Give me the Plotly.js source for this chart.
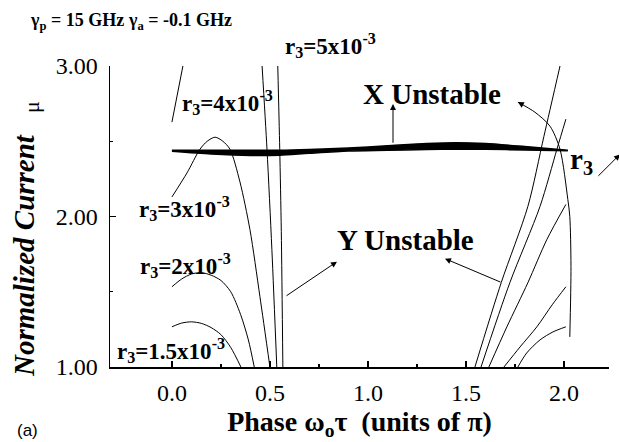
<!DOCTYPE html>
<html>
<head>
<meta charset="utf-8">
<script src="https://cdn.plot.ly/plotly-3.0.1.min.js"></script>
<style>
  html, body { margin: 0; padding: 0; background: #fff; }
  #chart { width: 619px; height: 442px; }
</style>
</head>
<body>
<div id="chart"></div>
<script>
// Stability boundaries: normalized current mu versus phase (units of pi)
// for several values of the feedback ratio r3.

// r3 = 1.5e-3
const r15LeftPhase  = [0, 0.05, 0.1, 0.15, 0.2, 0.25, 0.3, 0.352];
const r15LeftMu     = [1.267, 1.292, 1.300, 1.290, 1.262, 1.215, 1.13, 1.0];
const r15RightPhase = [1.765, 1.81, 1.878, 1.944, 2.01];
const r15RightMu    = [1.0, 1.093, 1.18, 1.233, 1.267];

// r3 = 2e-3
const r2LeftPhase  = [0, 0.05, 0.1, 0.15, 0.2, 0.25, 0.3, 0.35, 0.39, 0.42];
const r2LeftMu     = [1.533, 1.585, 1.618, 1.627, 1.61, 1.575, 1.50, 1.35, 1.18, 1.0];
const r2RightPhase = [1.694, 1.776, 1.862, 1.94, 2.01];
const r2RightMu    = [1.0, 1.133, 1.267, 1.413, 1.533];

// r3 = 3e-3
const r3LeftPhase  = [0, 0.077, 0.143, 0.18, 0.22, 0.26, 0.296, 0.347, 0.398, 0.449, 0.5];
const r3LeftMu     = [2.13, 2.29, 2.447, 2.50, 2.527, 2.50, 2.447, 2.23, 1.913, 1.467, 1.0];
const r3RightPhase = [1.617, 1.709, 1.816, 1.913, 2.01];
const r3RightMu    = [1.0, 1.267, 1.56, 1.847, 2.08];

// r3 = 4e-3
const r4LeftPhase  = [0, 0.056];
const r4LeftMu     = [2.627, 3.0];
const r4MidPhase   = [0.46, 0.485, 0.51, 0.535];
const r4MidMu      = [3.0, 2.447, 1.78, 1.0];
const r4RightPhase = [1.577, 1.724, 1.878, 1.965, 2.01];
const r4RightMu    = [1.0, 1.56, 2.067, 2.45, 2.647];

// r3 = 5e-3
const r5MidPhase   = [0.54, 0.55, 0.558, 0.566];
const r5MidMu      = [3.0, 2.45, 1.9, 1.0];
const r5RightPhase = [1.546, 1.68, 1.816, 1.898, 1.98];
const r5RightMu    = [1.0, 1.56, 2.067, 2.533, 3.0];

// X-unstable boundary (narrow band between two branches)
const bandPhase = [0, 0.2, 0.4, 0.55, 0.7, 0.9, 1.1, 1.3, 1.45, 1.6, 1.8, 2.02];
const bandUpper = [2.44, 2.44, 2.44, 2.44, 2.445, 2.455, 2.47, 2.485, 2.49, 2.485, 2.465, 2.44];
const bandLower = [2.433, 2.415, 2.405, 2.407, 2.42, 2.435, 2.44, 2.445, 2.447, 2.447, 2.442, 2.437];

// Curved pointer running from the boundaries up to the "X Unstable" label
const pointerPhase = [2.03, 2.036, 2.03, 2.02, 1.98, 1.929, 1.852, 1.765];
const pointerMu    = [1.2, 1.667, 2.0, 2.113, 2.447, 2.60, 2.693, 2.76];

// Axis ticks
const xMajorTicks = [0, 0.5, 1.0, 1.5, 2.0];
const xTickText   = ['0.0', '0.5', '1.0', '1.5', '2.0'];
const xMinorTicks = [0.25, 0.75, 1.25, 1.75];
const yMajorTicks = [1, 2, 3];
const yTickText   = ['1.00', '2.00', '3.00'];
const yMinorTicks = [1.5, 2.5];

const SERIF = 'Liberation Serif';

function curve(xs, ys, width) {
  return {
    type: 'scatter', mode: 'lines', x: xs, y: ys,
    line: { color: '#000', width: width || 1, shape: 'spline', smoothing: 0.8 },
    hoverinfo: 'skip', showlegend: false
  };
}

const traces = [
  curve(r15LeftPhase, r15LeftMu), curve(r15RightPhase, r15RightMu),
  curve(r2LeftPhase, r2LeftMu),   curve(r2RightPhase, r2RightMu),
  curve(r3LeftPhase, r3LeftMu),   curve(r3RightPhase, r3RightMu),
  curve(r4LeftPhase, r4LeftMu),   curve(r4MidPhase, r4MidMu), curve(r4RightPhase, r4RightMu),
  curve(r5MidPhase, r5MidMu),     curve(r5RightPhase, r5RightMu),
  curve(pointerPhase, pointerMu),
  curve(bandPhase, bandUpper, 1.5),
  Object.assign(curve(bandPhase, bandLower, 1.5), { fill: 'tonexty', fillcolor: '#000' })
];

// Convert a position on the 619x442 canvas to paper coordinates
const plotL = 110, plotR = 609, plotT = 66, plotB = 367;
const px = v => (v - plotL) / (plotR - plotL);
const py = v => (plotB - v) / (plotB - plotT);

function label(text, x, y, size, anchor) {
  return {
    text: text, x: x, y: y, xref: 'x', yref: 'y', showarrow: false,
    xanchor: anchor || 'left', yanchor: 'middle',
    font: { family: SERIF, size: size, color: '#000' }
  };
}

function paperLabel(text, x, y, size, anchor, family, angle) {
  return {
    text: text, x: px(x), y: py(y), xref: 'paper', yref: 'paper', showarrow: false,
    xanchor: anchor || 'left', yanchor: 'middle', textangle: angle || 0,
    font: { family: family || SERIF, size: size, color: '#000' }
  };
}

function arrow(headX, headY, tailX, tailY) {
  return {
    text: '', x: headX, y: headY, ax: tailX, ay: tailY,
    xref: 'x', yref: 'y', axref: 'x', ayref: 'y',
    showarrow: true, arrowhead: 2, arrowsize: 1.2, arrowwidth: 1,
    arrowcolor: '#000', standoff: 0, startstandoff: 0
  };
}

const annotations = [
  paperLabel('<b>r<sub>3</sub>=5x10<sup>-3</sup></b>', 283, 45, 23),
  label('<b>r<sub>3</sub>=4x10<sup>-3</sup></b>', 0.041, 2.76, 23),
  label('<b>r<sub>3</sub>=3x10<sup>-3</sup></b>', -0.179, 2.05, 23),
  label('<b>r<sub>3</sub>=2x10<sup>-3</sup></b>', -0.173, 1.673, 23),
  label('<b>r<sub>3</sub>=1.5x10<sup>-3</sup></b>', -0.29, 1.107, 23),
  label('<b>X Unstable</b>', 1.327, 2.813, 29, 'center'),
  label('<b>Y Unstable</b>', 1.194, 1.847, 29, 'center'),
  label('<b>r<sub>3</sub></b>', 2.02, 2.367, 29),
  arrow(1.128, 2.747, 1.128, 2.48),
  arrow(2.286, 2.413, 2.168, 2.26),
  arrow(0.842, 1.70, 0.577, 1.467),
  arrow(1.393, 1.72, 1.684, 1.56),
  arrow(1.765, 2.76, 1.80, 2.735),
  paperLabel('<b>γ<sub>p</sub> = 15 GHz</b>', 28, 21, 18),
  paperLabel('<b>γ<sub>a</sub> = -0.1 GHz</b>', 126, 21, 18),
  // vertical axis title, with the symbol set apart at its end
  paperLabel('<b><i>Normalized Current</i></b>', 24, 256, 29, 'center', SERIF, -90),
  paperLabel('μ', 31, 107, 22, 'center', SERIF, -90),
  paperLabel('(a)', 27, 430, 17, 'center', 'Liberation Sans')
];

const axisCommon = {
  showline: true, linecolor: '#000', linewidth: 1.5,
  ticks: 'inside', ticklen: 6, tickwidth: 1.5, tickcolor: '#000',
  showgrid: false, zeroline: false
};

const layout = {
  width: 619, height: 442,
  margin: { l: plotL, r: 619 - plotR, t: plotT, b: 442 - plotB },
  paper_bgcolor: '#fff', plot_bgcolor: '#fff',
  font: { family: SERIF, color: '#000', size: 23 },
  showlegend: false,
  xaxis: Object.assign({}, axisCommon, {
    range: [-0.316, 2.23],
    tickmode: 'array', tickvals: xMajorTicks, ticktext: xTickText,
    tickfont: { family: SERIF, size: 24, color: '#000' },
    ticklabelstandoff: 4,
    minor: { tickmode: 'array', tickvals: xMinorTicks, ticks: 'inside', ticklen: 3, tickwidth: 1.2, tickcolor: '#000' },
    title: {
      text: '<b>Phase ω<sub>o</sub>τ\u00a0\u00a0(units of π)</b>',
      font: { family: SERIF, size: 28, color: '#000' },
      standoff: 2
    }
  }),
  yaxis: Object.assign({}, axisCommon, {
    range: [1, 3],
    tickmode: 'array', tickvals: yMajorTicks, ticktext: yTickText,
    tickfont: { family: SERIF, size: 24, color: '#000' },
    ticklabelstandoff: 6,
    minor: { tickmode: 'array', tickvals: yMinorTicks, ticks: 'inside', ticklen: 3, tickwidth: 1.2, tickcolor: '#000' }
  }),
  annotations: annotations
};

Plotly.newPlot('chart', traces, layout, { staticPlot: true, displayModeBar: false });
</script>
</body>
</html>
